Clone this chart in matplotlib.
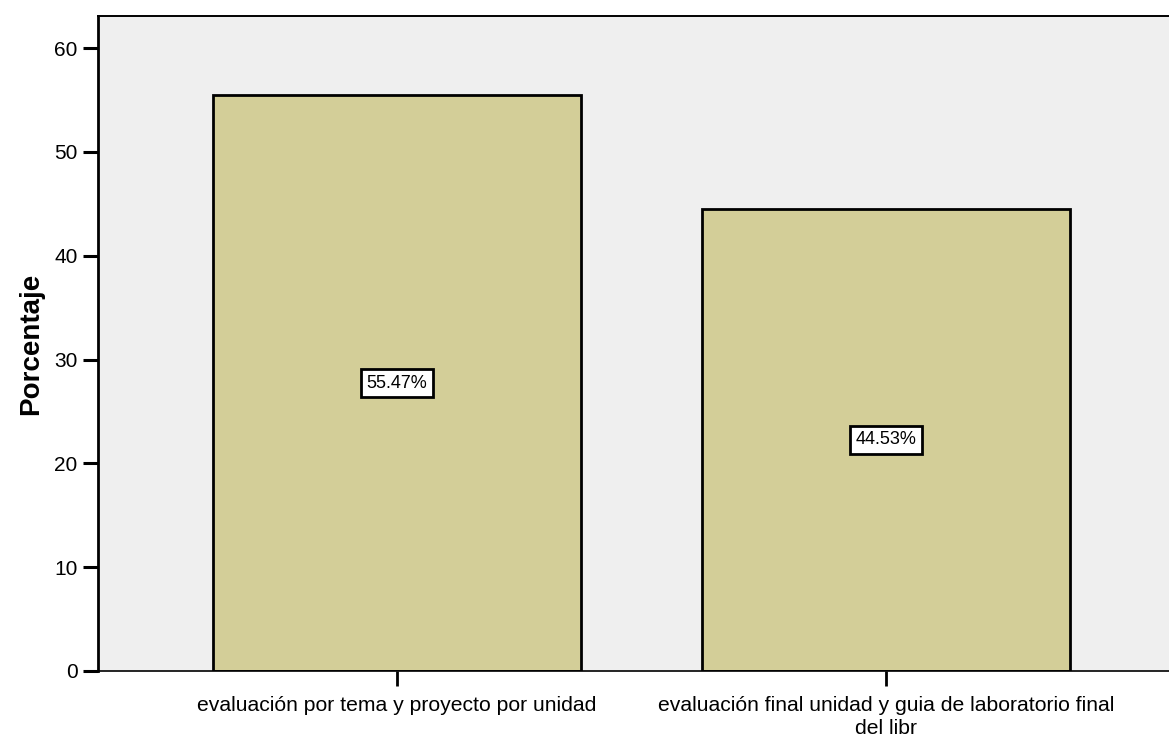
import matplotlib.pyplot as plt

categories = ["evaluación por tema y proyecto por unidad",
              "evaluación final unidad y guia de laboratorio final\ndel libr"]
percentages = [55.47, 44.53]
yticks = [0, 10, 20, 30, 40, 50, 60]

plt.rcParams['font.family'] = ['Liberation Sans', 'DejaVu Sans']

fig = plt.figure(figsize=(11.69, 7.38), dpi=100)
ax = fig.add_axes([98 / 1169, 67 / 738, 1 - 98 / 1169, (671 - 16) / 738])
ax.set_facecolor('#efefef')

xpos = list(range(len(categories)))
ax.bar(xpos, percentages, width=0.752, color='#d3ce98', edgecolor='black',
       linewidth=2.0, zorder=2)

for x, v in zip(xpos, percentages):
    ax.text(x, v / 2, f"{v:.2f}%", ha='center', va='center', fontsize=13,
            bbox=dict(boxstyle='square,pad=0.32', facecolor='white',
                      edgecolor='black', linewidth=2.0), zorder=3)

ax.set_xlim(-0.611, 1.579)
ax.set_ylim(0, 63.1)
ax.set_yticks(yticks)
ax.set_xticks(xpos)
ax.set_xticklabels(categories, fontsize=15.2, linespacing=1.3)
ax.tick_params(axis='y', length=11, width=2.2, labelsize=15, pad=3.6)
ax.tick_params(axis='x', length=11, width=2.0, pad=7)
ax.set_ylabel("Porcentaje", fontsize=20, fontweight='bold', labelpad=7.5)

ax.spines['right'].set_visible(False)
ax.spines['left'].set_linewidth(2.0)
ax.spines['top'].set_linewidth(1.4)
ax.spines['bottom'].set_linewidth(1.2)

fig.savefig("out.png", dpi=100)
